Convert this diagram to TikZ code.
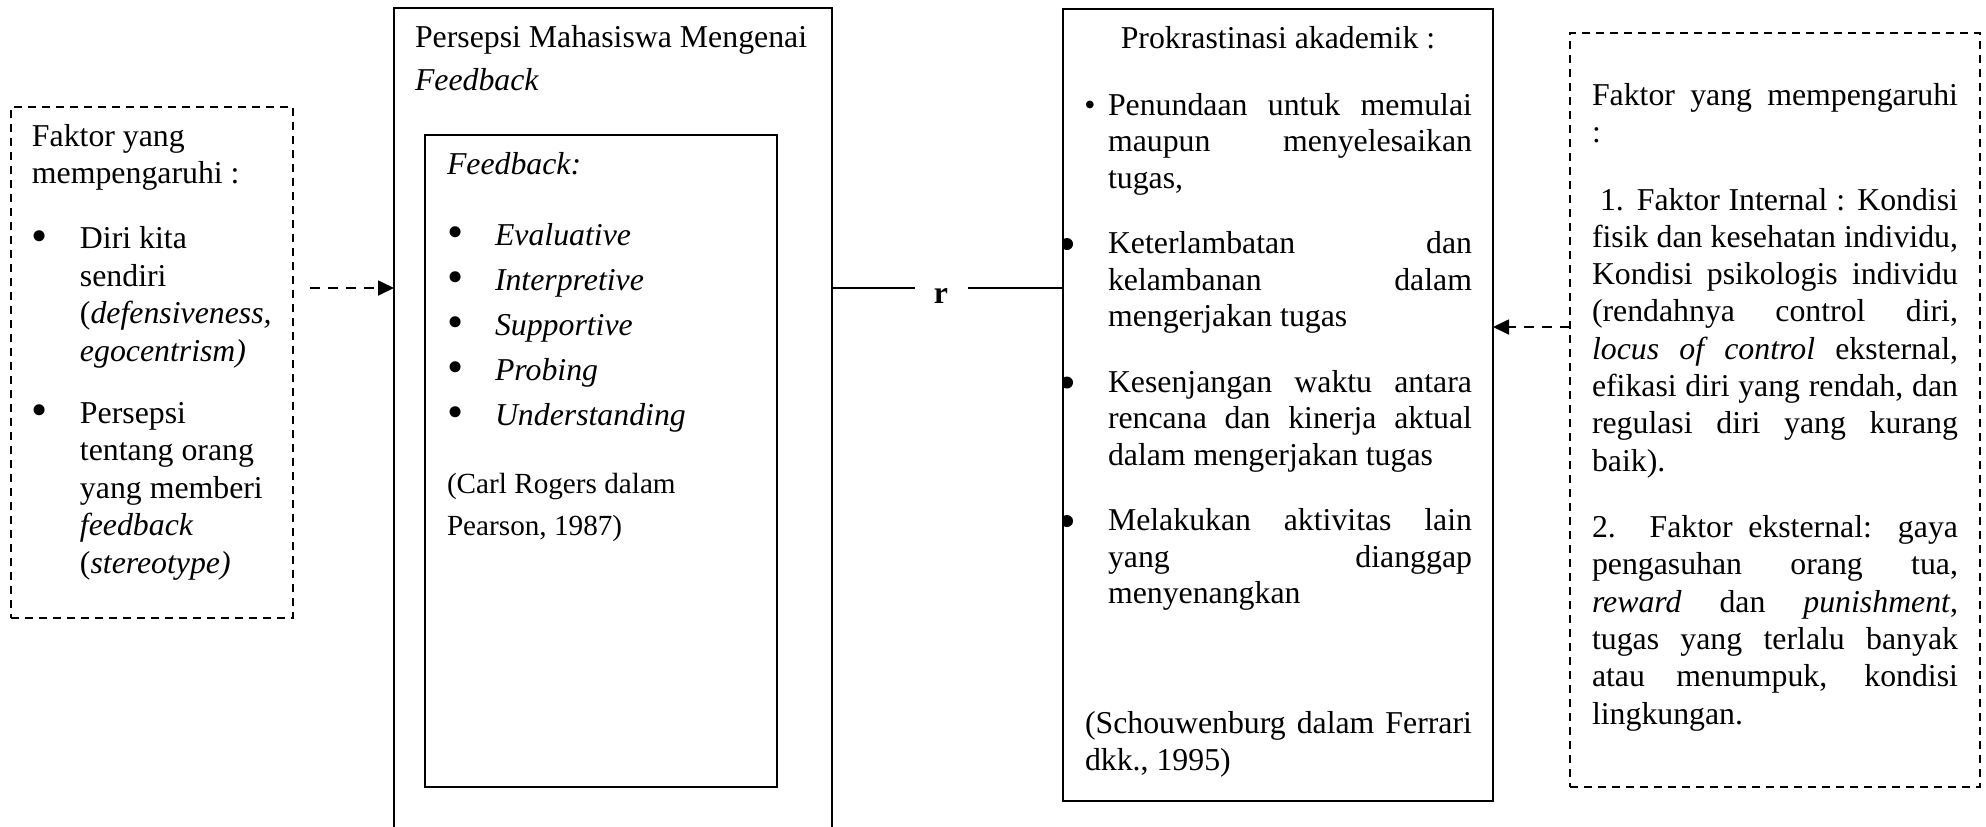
\documentclass[tikz,border=0pt]{standalone}
\usepackage{fontspec}
\setmainfont{Liberation Serif}
\usetikzlibrary{arrows.meta}
\newcommand\fs{\fontsize{15.9}{18.65}\selectfont}
\newcommand\jl[1]{\makebox[\linewidth][s]{#1}}
\newcommand\blt{\raisebox{-1.4pt}{\scalebox{1.45}{\textbullet}}}
\newcommand\bi{\makebox[24pt][l]{\blt}}
\newcommand\ii{\hspace*{24pt}}
\begin{document}
\begin{tikzpicture}[x=0.5pt,y=-0.5pt,
  box/.style={draw, line width=0.9pt, anchor=north west, inner sep=0pt, outer sep=0pt},
  dbox/.style={box, line width=0.85pt, dash pattern=on 4pt off 3pt},
  txt/.style={anchor=base west, inner sep=0pt, outer sep=0pt},
  arr/.style={line width=0.9pt, dash pattern=on 5pt off 4pt, -{Triangle[length=8pt,width=7.5pt]}},
  conn/.style={line width=0.9pt}
]
\useasboundingbox (0,0) rectangle (1986,826);
\clip (0,0) rectangle (1986,826);

% boxes
\node[dbox, minimum width=141pt, minimum height=255.5pt] (lbox) at (11,107) {};
\node[box, minimum width=219pt, minimum height=420pt] (mid) at (394,8) {};
\node[box, minimum width=176pt, minimum height=326pt] (inner) at (425,135) {};
\node[box, minimum width=215pt, minimum height=396pt] (prok) at (1063,9) {};
\node[dbox, minimum width=205pt, minimum height=377pt] (rbox) at (1570,33) {};

% left box text
\node[txt] (ltxt) at (32,146) {\parbox[t]{128pt}{\fs\baselineskip=18.75pt
Faktor yang\\
mempengaruhi :\\[13.75pt]
\bi Diri kita\\
\ii sendiri\\
\ii (\textit{defensiveness,}\\
\ii \textit{egocentrism)}\\[12.25pt]
\bi Persepsi\\
\ii tentang orang\\
\ii yang memberi\\
\ii \textit{feedback}\\
\ii (\textit{stereotype)}}};

% middle box text
\node[txt] (mtxt) at (415,47) {\parbox[t]{205pt}{\fs\baselineskip=21.5pt
Persepsi Mahasiswa Mengenai\\
\textit{Feedback}}};
\node[txt] (itxt) at (447,174) {\parbox[t]{160pt}{\fs\baselineskip=22.5pt
\textit{Feedback:}\\[13pt]
\bi\textit{Evaluative}\\
\bi\textit{Interpretive}\\
\bi\textit{Supportive}\\
\bi\textit{Probing}\\
\bi\textit{Understanding}}};
\node[txt] (cite1) at (447,493) {\parbox[t]{160pt}{\fontsize{14.6}{21}\selectfont
(Carl Rogers dalam\\
Pearson, 1987)}};

% prokrastinasi box text
\node[anchor=base, inner sep=0pt] (ptitle) at (1278,48) {\fs Prokrastinasi akademik :};
\node[anchor=base, inner sep=0pt] (pb1) at (1090,115) {\fs\textbullet};
\node[txt] (ptxt) at (1108,115) {\parbox[t]{182pt}{\fs\baselineskip=18.25pt
\jl{Penundaan untuk memulai}\\
\jl{maupun menyelesaikan}\\
tugas,\\[14.5pt]
\jl{Keterlambatan dan}\\
\jl{kelambanan dalam}\\
mengerjakan tugas\\[14.5pt]
\jl{Kesenjangan waktu antara}\\
\jl{rencana dan kinerja aktual}\\
dalam mengerjakan tugas\\[14.5pt]
\jl{Melakukan aktivitas lain}\\
\jl{yang dianggap}\\
menyenangkan}};
\begin{scope}
\clip (prok.north west) rectangle (prok.south east);
\fill (1067,244) circle (6);
\fill (1067,382.5) circle (6);
\fill (1067,521) circle (6);
\end{scope}
\node[txt] (cite2) at (1085,733) {\parbox[t]{193.5pt}{\fs\baselineskip=18.5pt
\jl{(Schouwenburg dalam Ferrari}\\
dkk., 1995)}};

% right dashed box text
\node[txt] (rtxt) at (1592,105) {\parbox[t]{183pt}{\fs\baselineskip=18.65pt
\jl{Faktor yang mempengaruhi}\\
:\\[15.2pt]
\jl{\hspace*{4pt}1. Faktor Internal : Kondisi}\\
\jl{fisik dan kesehatan individu,}\\
\jl{Kondisi psikologis individu}\\
\jl{(rendahnya control diri,}\\
\jl{\textit{locus of control} eksternal,}\\
\jl{efikasi diri yang rendah, dan}\\
\jl{regulasi diri yang kurang}\\
baik).\\[14.55pt]
\jl{2. Faktor eksternal: gaya}\\
\jl{pengasuhan orang tua,}\\
\jl{\textit{reward} dan \textit{punishment},}\\
\jl{tugas yang terlalu banyak}\\
\jl{atau menumpuk, kondisi}\\
lingkungan.}};

% connectors
\coordinate (a1) at (310,288);
\draw[arr] (a1) -- (mid.west |- a1);
\coordinate (a2) at (1570,327);
\draw[arr] (rbox.west |- a2) -- (prok.east |- a2);
\coordinate (rl) at (915,288);
\coordinate (rr) at (968,288);
\node[anchor=base, inner sep=0pt] (rlab) at (941,303) {\fs\textbf{r}};
\draw[conn] (mid.east |- rl) -- (rl);
\draw[conn] (rr) -- (prok.west |- rr);
\end{tikzpicture}
\end{document}
